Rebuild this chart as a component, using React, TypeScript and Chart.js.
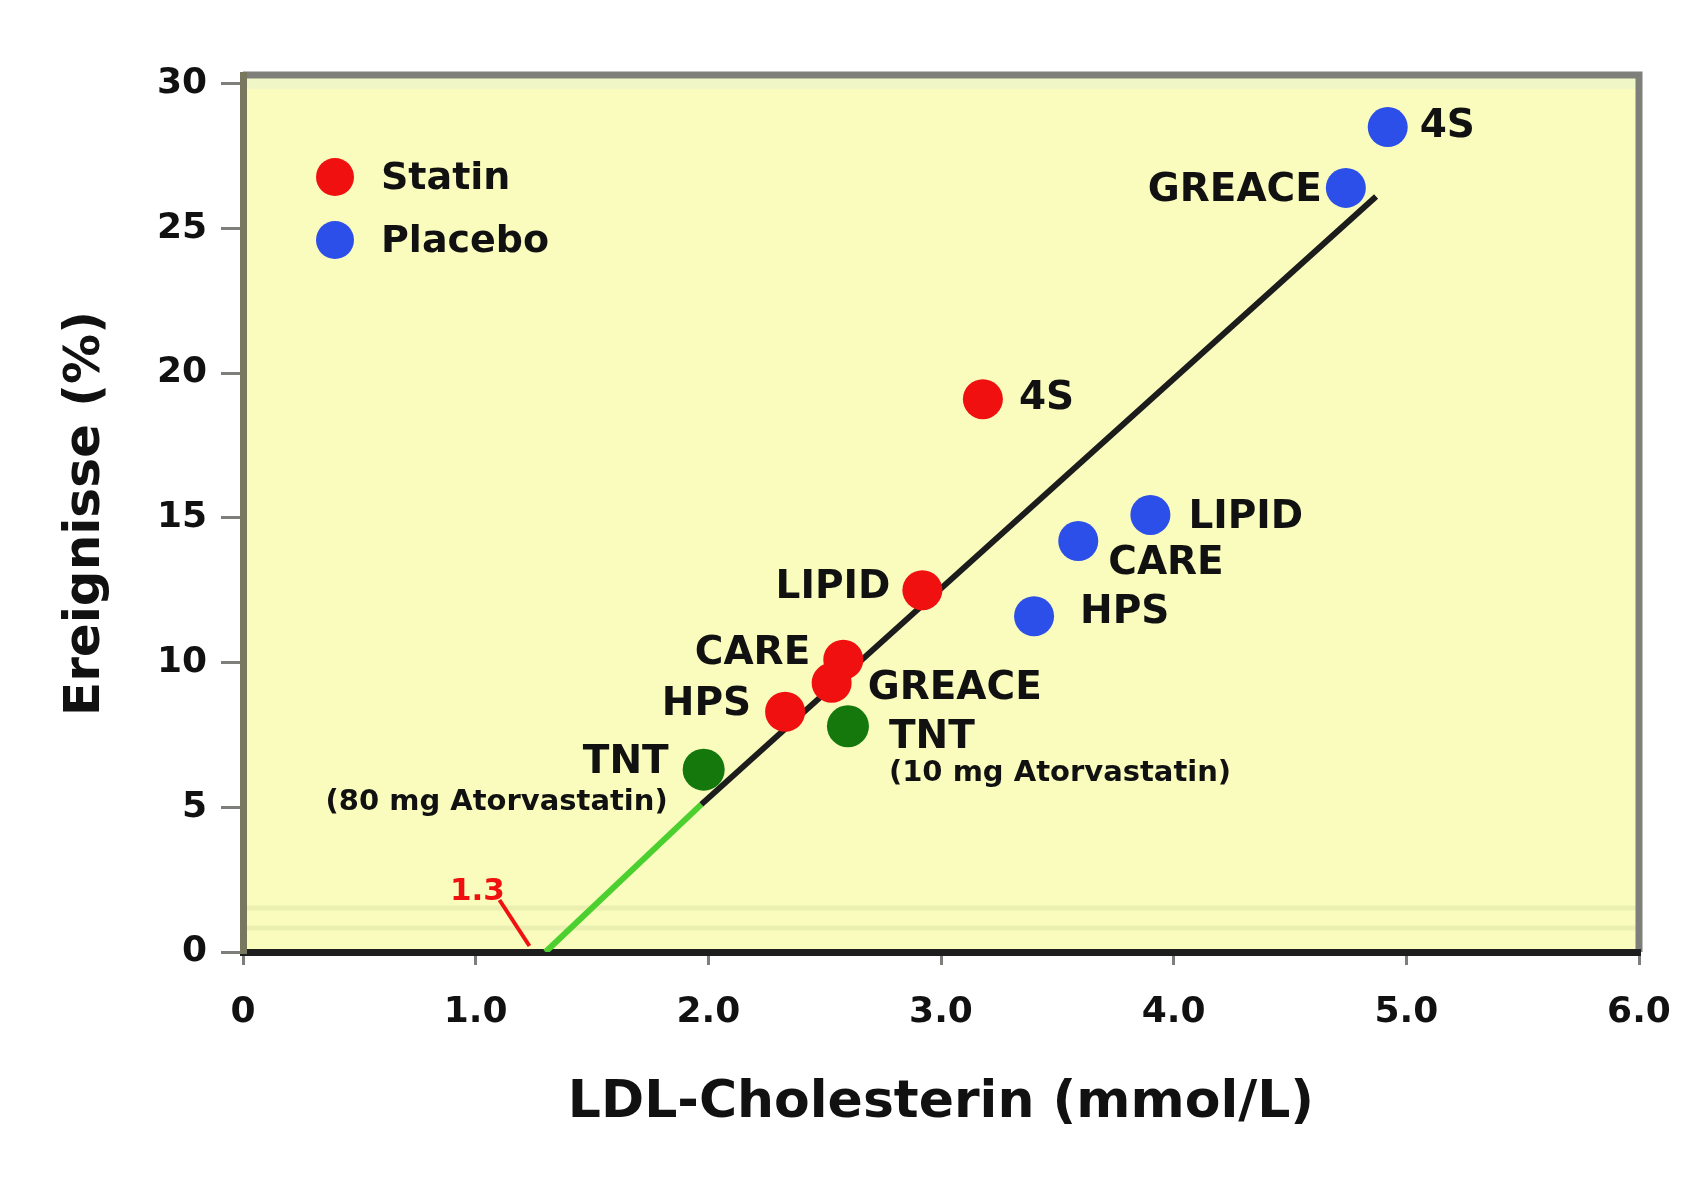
import React, { useEffect, useRef } from "react";
import { Chart, registerables } from "chart.js";
Chart.register(...registerables);

// ---------- data ----------
const seriesNames = ["Statin", "Placebo", "TNT"];
const statinStudies = ["4S", "LIPID", "CARE", "GREACE", "HPS"];
const statinX = [3.18, 2.92, 2.58, 2.53, 2.33];
const statinY = [19.1, 12.5, 10.1, 9.3, 8.3];
const placeboStudies = ["4S", "GREACE", "LIPID", "CARE", "HPS"];
const placeboX = [4.92, 4.74, 3.9, 3.59, 3.4];
const placeboY = [28.5, 26.4, 15.1, 14.2, 11.6];
const tntStudies = ["TNT", "TNT"];
const tntDoses = ["(80 mg Atorvastatin)", "(10 mg Atorvastatin)"];
const tntX = [1.98, 2.6];
const tntY = [6.3, 7.8];
const fitX = [1.97, 4.87];
const fitY = [5.1, 26.1];
const extrapX = [1.3, 1.97];
const extrapY = [0, 5.1];
const interceptLabel = "1.3";
const xTickLabels = ["0", "1.0", "2.0", "3.0", "4.0", "5.0", "6.0"];
const yTickLabels = ["0", "5", "10", "15", "20", "25", "30"];
const xTitle = "LDL-Cholesterin (mmol/L)";
const yTitle = "Ereignisse (%)";

// ---------- styles ----------
const FONT = "'DejaVu Sans', 'Liberation Sans', Arial, sans-serif";
const YELLOW = "#F9FCBC";
const RED = "#F01010";
const BLUE = "#2C4FEA";
const GREEN = "#14780C";
const FRAME = "#7E7E7A";
const LEFTFRAME = "#78785E";
// label offsets [dx, dy, align]
const statinLabelPos: [number, number, CanvasTextAlign][] = [
  [36, 0, "left"],
  [-32, -2, "right"],
  [-33, -6, "right"],
  [36, 6, "left"],
  [-34, -7, "right"],
];
const placeboLabelPos: [number, number, CanvasTextAlign][] = [
  [32, 0, "left"],
  [-24, 3, "right"],
  [38, 3, "left"],
  [30, 23, "left"],
  [46, -3, "left"],
];
const tntLabelPos: [number, number, CanvasTextAlign][] = [
  [-35, -7, "right"],
  [41, 12, "left"],
];
const tntDosePos: [number, number, CanvasTextAlign][] = [
  [-36, 33, "right"],
  [41, 47, "left"],
];

const pts = (xs: number[], ys: number[]) => xs.map((x, i) => ({ x, y: ys[i] }));

const overlay = {
  id: "overlay",
  beforeDraw(chart: any) {
    const { ctx, chartArea: a } = chart;
    ctx.save();
    ctx.fillStyle = "#ffffff";
    ctx.fillRect(0, 0, chart.width, chart.height);
    ctx.fillStyle = YELLOW;
    ctx.fillRect(a.left, a.top, a.right - a.left, a.bottom - a.top);
    // faint inner bevel bands
    ctx.strokeStyle = "#ECEFB2";
    ctx.lineWidth = 5;
    ctx.beginPath();
    ctx.moveTo(a.left, a.bottom - 44);
    ctx.lineTo(a.right, a.bottom - 44);
    ctx.moveTo(a.left, a.bottom - 24);
    ctx.lineTo(a.right, a.bottom - 24);
    ctx.stroke();
    ctx.strokeStyle = "#F1F6C6";
    ctx.lineWidth = 12;
    ctx.beginPath();
    ctx.moveTo(a.left, a.top + 8);
    ctx.lineTo(a.right, a.top + 8);
    ctx.stroke();
    ctx.strokeStyle = FRAME;
    ctx.lineWidth = 7;
    ctx.beginPath();
    ctx.moveTo(a.left, a.top);
    ctx.lineTo(a.right, a.top);
    ctx.lineTo(a.right, a.bottom);
    ctx.stroke();
    ctx.restore();
  },
  afterDatasetsDraw(chart: any) {
    const { ctx, chartArea: a } = chart;
    const xs = chart.scales.x;
    const ys = chart.scales.y;
    ctx.save();
    ctx.textBaseline = "middle";
    ctx.fillStyle = "#111";
    const big = `bold 39px ${FONT}`;
    const small = `bold 29px ${FONT}`;
    const put = (
      text: string,
      x: number,
      y: number,
      pos: [number, number, CanvasTextAlign],
      font: string
    ) => {
      ctx.font = font;
      ctx.textAlign = pos[2];
      ctx.fillText(text, xs.getPixelForValue(x) + pos[0], ys.getPixelForValue(y) + pos[1]);
    };
    statinStudies.forEach((t, i) => put(t, statinX[i], statinY[i], statinLabelPos[i], big));
    placeboStudies.forEach((t, i) => put(t, placeboX[i], placeboY[i], placeboLabelPos[i], big));
    tntStudies.forEach((t, i) => put(t, tntX[i], tntY[i], tntLabelPos[i], big));
    tntDoses.forEach((t, i) => put(t, tntX[i], tntY[i], tntDosePos[i], small));

    // intercept label + pointer
    const ix = xs.getPixelForValue(extrapX[0]);
    const iy = ys.getPixelForValue(extrapY[0]);
    ctx.fillStyle = RED;
    ctx.font = `bold 31px ${FONT}`;
    ctx.textAlign = "center";
    ctx.fillText(interceptLabel, ix - 68, iy - 60);
    ctx.strokeStyle = RED;
    ctx.lineWidth = 4;
    ctx.beginPath();
    ctx.moveTo(ix - 46, iy - 52);
    ctx.lineTo(ix - 16, iy - 6);
    ctx.stroke();

    // legend
    const ds = chart.data.datasets;
    ctx.font = `bold 38px ${FONT}`;
    ctx.textAlign = "left";
    [0, 1].forEach((k) => {
      const cx = a.left + 92;
      const cy = a.top + 102 + k * 63;
      ctx.fillStyle = ds[k].backgroundColor;
      ctx.beginPath();
      ctx.arc(cx, cy, 19, 0, Math.PI * 2);
      ctx.fill();
      ctx.fillStyle = "#111";
      ctx.fillText(ds[k].label, cx + 46, cy + 2);
    });
    ctx.restore();
  },
};

export default function App() {
  const ref = useRef<HTMLCanvasElement>(null);
  useEffect(() => {
    if (!ref.current) return;
    const chart = new Chart(ref.current, {
      type: "scatter",
      data: {
        datasets: [
          {
            label: seriesNames[0],
            data: pts(statinX, statinY),
            backgroundColor: RED,
            borderColor: RED,
            pointRadius: 20,
            borderWidth: 0,
          },
          {
            label: seriesNames[1],
            data: pts(placeboX, placeboY),
            backgroundColor: BLUE,
            borderColor: BLUE,
            pointRadius: 20,
            borderWidth: 0,
          },
          {
            label: seriesNames[2],
            data: pts(tntX, tntY),
            backgroundColor: GREEN,
            borderColor: GREEN,
            pointRadius: 21,
            borderWidth: 0,
          },
          {
            type: "line",
            label: "fit",
            data: pts(fitX, fitY),
            borderColor: "#1c1c1c",
            borderWidth: 6,
            pointRadius: 0,
            showLine: true,
          } as any,
          {
            type: "line",
            label: "extrapolation",
            data: pts(extrapX, extrapY),
            borderColor: "#4CD030",
            borderWidth: 6,
            pointRadius: 0,
            showLine: true,
          } as any,
        ],
      },
      options: {
        animation: false,
        responsive: false,
        maintainAspectRatio: false,
        layout: { padding: { top: 75, right: 63, left: 0, bottom: 0 } },
        plugins: { legend: { display: false }, tooltip: { enabled: false } },
        scales: {
          x: {
            type: "linear",
            min: 0,
            max: 6,
            afterFit: (s: any) => {
              s.height = 231;
            },
            afterBuildTicks: (s: any) => {
              s.ticks = xTickLabels.map((_, i) => ({ value: i }));
            },
            ticks: {
              callback: (v: any) => xTickLabels[Math.round(Number(v))] ?? "",
              color: "#111",
              font: { family: FONT, size: 36, weight: "bold" },
              padding: 26,
              maxRotation: 0,
            },
            grid: {
              drawOnChartArea: false,
              drawTicks: true,
              tickLength: 13,
              color: FRAME,
              lineWidth: 3,
            },
            border: { display: true, color: "#1e1e1e", width: 7 },
            title: {
              display: true,
              text: xTitle,
              color: "#111",
              font: { family: FONT, size: 52, weight: "bold" },
              padding: { top: 0, bottom: 48 },
            },
          },
          y: {
            type: "linear",
            min: 0,
            max: 30.3,
            afterFit: (s: any) => {
              s.width = 243;
            },
            afterBuildTicks: (s: any) => {
              s.ticks = yTickLabels.map((_, i) => ({ value: i * 5 }));
            },
            ticks: {
              callback: (v: any) => yTickLabels[Math.round(Number(v) / 5)] ?? "",
              color: "#111",
              font: { family: FONT, size: 36, weight: "bold" },
              padding: 14,
            },
            grid: {
              drawOnChartArea: false,
              drawTicks: true,
              tickLength: 22,
              color: FRAME,
              lineWidth: 3,
            },
            border: { display: true, color: LEFTFRAME, width: 7 },
            title: {
              display: true,
              text: yTitle,
              color: "#111",
              font: { family: FONT, size: 50, weight: "bold" },
              padding: { top: 56, bottom: 0 },
            },
          },
        },
      },
      plugins: [overlay],
    } as any);
    return () => chart.destroy();
  }, []);
  return (
    <div style={{ position: "fixed", left: 0, top: 0, width: 1702, height: 1183, background: "#fff" }}>
      <canvas ref={ref} width={1702} height={1183} style={{ width: 1702, height: 1183 }} />
    </div>
  );
}
